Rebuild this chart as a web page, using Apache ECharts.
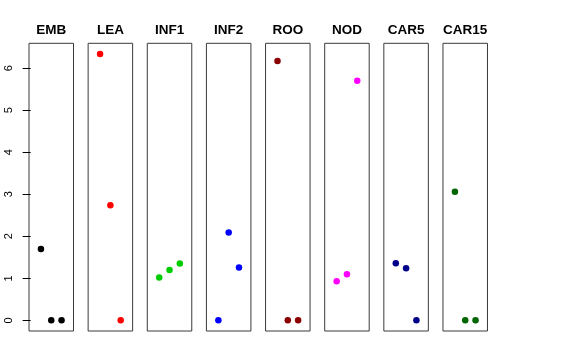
<!DOCTYPE html>
<html>
<head>
<meta charset="utf-8">
<script src="https://cdn.jsdelivr.net/npm/echarts@6/dist/echarts.min.js"></script>
<style>html,body{margin:0;padding:0;background:#fff}#c{width:576px;height:360px}</style>
</head>
<body>
<div id="c"></div>
<script>
var panels = ['EMB', 'LEA', 'INF1', 'INF2', 'ROO', 'NOD', 'CAR5', 'CAR15'];
var panelColors = ['#000000', '#ff0000', '#00cd00', '#0000ff', '#8b0000', '#ff00ff', '#00008b', '#006400'];
var xPositions = [1, 2, 3];
var EMB = [1.70, 0, 0];
var LEA = [6.34, 2.74, 0];
var INF1 = [1.02, 1.20, 1.35];
var INF2 = [0, 2.09, 1.26];
var ROO = [6.17, 0, 0];
var NOD = [0.93, 1.10, 5.70];
var CAR5 = [1.36, 1.24, 0];
var CAR15 = [3.06, 0, 0];
var yTicks = [0, 1, 2, 3, 4, 5, 6];
var values = [EMB, LEA, INF1, INF2, ROO, NOD, CAR5, CAR15];

(function () {
  var grids = [], xAxes = [], yAxes = [], series = [];
  var n = panels.length;
  var step = 59.14, left0 = 29, w = 44.5, gTop = 43.3, h = 287.7;
  var ymax = 6.34, ymin = 0, ext = (ymax - ymin) * 0.04;
  for (var i = 0; i < n; i++) {
    grids.push({left: left0 + i * step, top: gTop, width: w, height: h, show: true,
      borderColor: '#3a3a3a', borderWidth: 1, backgroundColor: 'transparent'});
    xAxes.push({type: 'value', gridIndex: i, min: -0.16, max: 4.16, position: 'top',
      name: panels[i], nameLocation: 'middle', nameGap: 6,
      nameTextStyle: {fontFamily: 'Liberation Sans', fontWeight: 'bold', fontSize: 13.5, color: '#000'},
      axisLine: {show: false}, axisTick: {show: false}, axisLabel: {show: false}, splitLine: {show: false}});
    yAxes.push({type: 'value', gridIndex: i, min: ymin - ext, max: ymax + ext,
      axisLine: {show: false},
      axisTick: {show: i === 0, length: 8, lineStyle: {color: '#000'}, customValues: yTicks},
      axisLabel: {show: i === 0, rotate: 90, margin: 15, fontFamily: 'Liberation Sans', fontSize: 11, color: '#000', customValues: yTicks},
      splitLine: {show: false}});
    var d = [];
    for (var j = 0; j < xPositions.length; j++) d.push([xPositions[j], values[i][j]]);
    series.push({type: 'scatter', xAxisIndex: i, yAxisIndex: i, data: d, symbolSize: 6.5,
      itemStyle: {color: panelColors[i], opacity: 1}, silent: true});
  }
  var chart = echarts.init(document.getElementById('c'), null, {renderer: 'canvas'});
  chart.setOption({animation: false, grid: grids, xAxis: xAxes, yAxis: yAxes, series: series});
})();
</script>
</body>
</html>
